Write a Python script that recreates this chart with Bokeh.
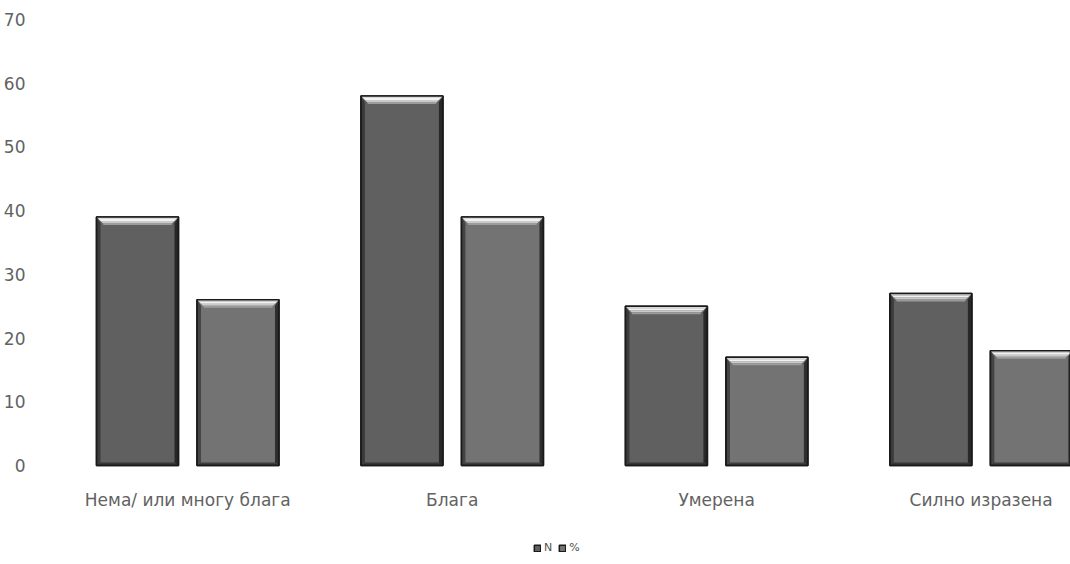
from bokeh.plotting import figure
from bokeh.models import Range1d, FixedTicker, Legend, LegendItem, ColumnDataSource
from bokeh.embed import file_html
from bokeh.resources import INLINE

# Severity categories and the two series (count and percentage)
categories = ["Нема/ или многу блага", "Блага", "Умерена", "Силно изразена"]
series_names = ["N", "%"]
n_values = [39, 58, 25, 27]
pct_values = [26, 39, 17, 18]
y_ticks = [0, 10, 20, 30, 40, 50, 60, 70]

# Canvas geometry: the frame runs to the bottom edge so the category axis
# and the legend both sit inside it, below y = 0
W, H = 1070, 564
LEFT, TOP = 53, 19
ZERO_PX = 465            # screen row of y = 0
X_SPAN = 3.838           # the plot is cut on the right, inside the last group
Y_MAX = 70
frame_w = W - LEFT
px_x = X_SPAN / frame_w                  # data units per screen pixel
px_y = Y_MAX / (ZERO_PX - TOP)
Y_MIN = -(H - ZERO_PX) * px_y

BAR_W = 0.31
OFFSETS = [-0.19, 0.19]
BODY = ["#606060", "#737373"]
EDGE = "#1a1a1a"
FONT = "DejaVu Sans"
TEXT_COLOR = "#626262"

p = figure(width=W, height=H,
           x_range=Range1d(0.5, 0.5 + X_SPAN), y_range=Range1d(Y_MIN, Y_MAX),
           output_backend="svg", toolbar_location=None,
           min_border_left=LEFT, min_border_right=0,
           min_border_top=TOP, min_border_bottom=0)
p.outline_line_color = None
p.grid.visible = False


def trapezoids(xs_c, values, inset_top, inset_bot, y_top, y_bot):
    """Bevel bands: horizontal slices of each bar top, in pixel offsets."""
    hw = BAR_W / 2
    xs, ys = [], []
    for cx, v in zip(xs_c, values):
        xs.append([cx - hw + inset_top * px_x, cx + hw - inset_top * px_x,
                   cx + hw - inset_bot * px_x, cx - hw + inset_bot * px_x])
        ys.append([v - y_top * px_y, v - y_top * px_y,
                   v - y_bot * px_y, v - y_bot * px_y])
    return xs, ys


body_renderers = []
for s, values in enumerate([n_values, pct_values]):
    xs_c = [i + 1 + OFFSETS[s] for i in range(len(categories))]
    src = ColumnDataSource(dict(x=xs_c, top=values))
    r = p.vbar(x="x", top="top", bottom=0, width=BAR_W, source=src,
               fill_color=BODY[s], line_color=EDGE, line_width=1.5)
    body_renderers.append(r)

    hw = BAR_W / 2
    # dark side and bottom bevels
    lx, ly, rx, ry, bx_, by_ = [], [], [], [], [], []
    for cx, v in zip(xs_c, values):
        lx.append([cx - hw, cx - hw + 4 * px_x, cx - hw + 4 * px_x, cx - hw])
        ly.append([v, v - 6 * px_y, 3 * px_y, 0])
        rx.append([cx + hw, cx + hw - 4 * px_x, cx + hw - 4 * px_x, cx + hw])
        ry.append([v, v - 6 * px_y, 3 * px_y, 0])
        bx_.append([cx - hw, cx + hw, cx + hw - 4 * px_x, cx - hw + 4 * px_x])
        by_.append([0, 0, 3 * px_y, 3 * px_y])
    p.patches(lx, ly, fill_color="#1e1e1e", fill_alpha=0.55, line_color=None)
    p.patches(rx, ry, fill_color="#111111", fill_alpha=0.7, line_color=None)
    p.patches(bx_, by_, fill_color="#1a1a1a", fill_alpha=0.6, line_color=None)

    # light top bevel, brightest just under the edge
    for (t0, t1, i0, i1, col) in [(0, 2, 0, 2, "#d8d8d8"),
                                  (2, 4, 2, 4, "#f2f2f2"),
                                  (4, 6, 4, 6, "#cbcbcb"),
                                  (6, 8, 6, 7, "#9c9c9c")]:
        txs, tys = trapezoids(xs_c, values, i0, i1, t0, t1)
        p.patches(txs, tys, fill_color=col, line_color=None)

    # re-stroke the outline on top of the bevels
    p.vbar(x="x", top="top", bottom=0, width=BAR_W, source=src,
           fill_color=None, line_color=EDGE, line_width=1.5)

# x axis pinned at y = 0: category labels centred under each pair
xa = p.xaxis[0]
xa.fixed_location = 0
xa.ticker = FixedTicker(ticks=[i + 1 for i in range(len(categories))])
xa.major_label_overrides = {i + 1: c for i, c in enumerate(categories)}
xa.axis_line_color = None
xa.major_tick_line_color = None
xa.minor_tick_line_color = None
xa.major_label_standoff = 18
xa.major_label_text_font = FONT
xa.major_label_text_font_size = "17px"
xa.major_label_text_color = TEXT_COLOR

ya = p.yaxis[0]
ya.ticker = FixedTicker(ticks=y_ticks)
ya.axis_line_color = None
ya.major_tick_line_color = None
ya.minor_tick_line_color = None
ya.major_label_standoff = 24
ya.major_label_text_font = FONT
ya.major_label_text_font_size = "17px"
ya.major_label_text_color = TEXT_COLOR

legend = Legend(items=[LegendItem(label=series_names[k], renderers=[body_renderers[k]])
                       for k in range(2)],
                location=(478, 10), orientation="horizontal",
                glyph_width=8, glyph_height=8, label_height=10, label_width=0,
                label_text_font=FONT, label_text_font_size="11px",
                label_text_color="#505050", label_standoff=3, spacing=6,
                padding=0, margin=0, border_line_color=None,
                background_fill_alpha=0)
p.add_layout(legend, "center")

open("out.html", "w").write(file_html(p, INLINE))
